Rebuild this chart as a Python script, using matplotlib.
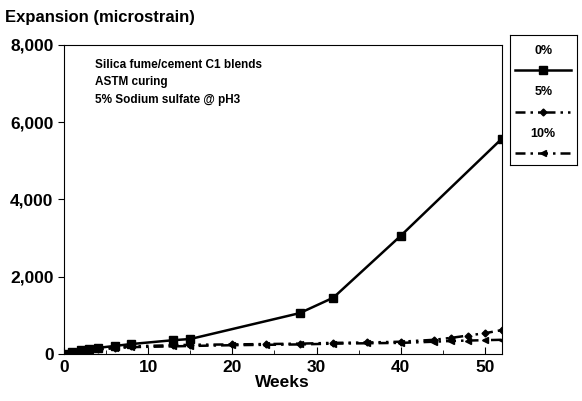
import matplotlib.pyplot as plt
from matplotlib.lines import Line2D
from matplotlib.ticker import MultipleLocator, FuncFormatter

plt.rcParams['font.family'] = ['Liberation Sans', 'DejaVu Sans']
plt.rcParams['font.weight'] = 'bold'

# data
weeks_0 = [0, 1, 2, 3, 4, 6, 8, 13, 15, 28, 32, 40, 52]
exp_0 = [0, 60, 110, 140, 160, 210, 260, 360, 390, 1060, 1460, 3060, 5570]

weeks_5 = [0, 1, 2, 3, 4, 6, 8, 13, 15, 20, 24, 28, 32, 36, 40, 44, 46, 48, 50, 52]
exp_5 = [0, 50, 90, 110, 130, 170, 200, 230, 240, 250, 260, 270, 290, 300, 320, 370, 420, 480, 540, 620]

weeks_10 = [0, 1, 2, 3, 4, 6, 8, 13, 15, 20, 24, 28, 32, 36, 40, 44, 46, 48, 50, 52]
exp_10 = [0, 40, 80, 100, 120, 150, 180, 200, 210, 230, 240, 250, 270, 280, 290, 320, 340, 350, 360, 370]

labels = ['0%', '5%', '10%']

styles = [dict(ls='-', marker='s', ms=6),
          dict(ls=(0, (4, 2, 1, 2, 1, 2)), marker='D', ms=3.5),
          dict(ls=(0, (4, 2, 1, 2)), marker='<', ms=4.5)]

fig = plt.figure(figsize=(5.82, 4.01), dpi=100)
ax = fig.add_axes([0.110, 0.117, 0.752, 0.771])

for x, y, st in zip([weeks_0, weeks_5, weeks_10], [exp_0, exp_5, exp_10], styles):
    ax.plot(x, y, color='black', lw=1.8, **st)

ax.set_xlim(0, 52)
ax.set_ylim(0, 8000)
ax.xaxis.set_major_locator(MultipleLocator(10))
ax.xaxis.set_minor_locator(MultipleLocator(5))
ax.yaxis.set_major_locator(MultipleLocator(2000))
ax.yaxis.set_major_formatter(FuncFormatter(lambda v, p: f'{int(v):,}'))
ax.tick_params(axis='x', direction='in', length=5, labelsize=12.5, pad=4)
ax.tick_params(axis='x', which='minor', direction='in', length=3)
ax.tick_params(axis='y', direction='out', length=4, labelsize=12.5)
for s in ax.spines.values():
    s.set_linewidth(0.8)

ax.set_xlabel('Weeks', fontsize=12.5, fontweight='bold', labelpad=0)
fig.text(0.009, 0.945, 'Expansion (microstrain)', fontsize=12, fontweight='bold')

ax.text(0.07, 0.955, 'Silica fume/cement C1 blends\nASTM curing\n5% Sodium sulfate @ pH3',
        transform=ax.transAxes, fontsize=8.5, fontweight='bold', va='top', linespacing=1.6)

# legend box: label above each line sample
lax = fig.add_axes([0.876, 0.588, 0.115, 0.325])
lax.set_xlim(0, 1)
lax.set_ylim(0, 1)
lax.set_xticks([])
lax.set_yticks([])
for i, (lab, st) in enumerate(zip(labels, styles)):
    y = 0.88 - i * 0.32
    lax.text(0.5, y, lab, ha='center', va='center', fontsize=9, fontweight='bold')
    lax.add_line(Line2D([0.08, 0.5, 0.92], [y - 0.15] * 3, color='black', lw=1.8,
                        markevery=[1], **st))

fig.savefig('out.png', dpi=100)
